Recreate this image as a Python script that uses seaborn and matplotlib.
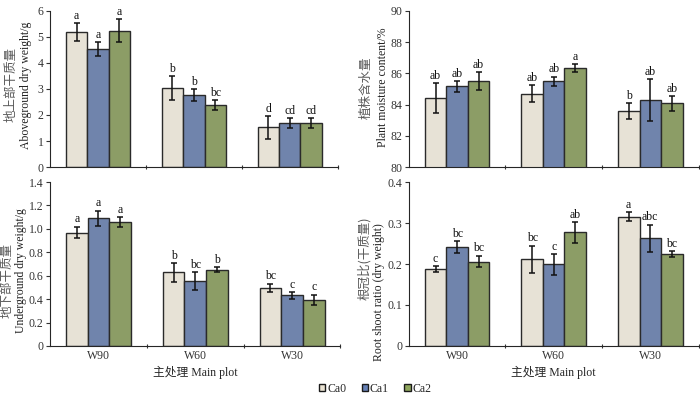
import matplotlib
matplotlib.use("Agg")
import matplotlib.pyplot as plt
import seaborn as sns
import pandas as pd
from matplotlib.patches import Patch

groups = ["W90", "W60", "W30"]
treatments = ["Ca0", "Ca1", "Ca2"]

# Aboveground dry weight (g)
above_mean = {"Ca0": [5.18, 3.03, 1.53], "Ca1": [4.53, 2.76, 1.69], "Ca2": [5.24, 2.37, 1.69]}
above_err = {"Ca0": [0.33, 0.45, 0.44], "Ca1": [0.27, 0.22, 0.19], "Ca2": [0.44, 0.19, 0.18]}
above_lab = {"Ca0": ["a", "b", "d"], "Ca1": ["a", "b", "cd"], "Ca2": ["a", "bc", "cd"]}

# Plant moisture content (%)
moist_mean = {"Ca0": [84.43, 84.69, 83.58], "Ca1": [85.16, 85.48, 84.29], "Ca2": [85.50, 86.35, 84.07]}
moist_err = {"Ca0": [0.94, 0.55, 0.51], "Ca1": [0.34, 0.30, 1.32], "Ca2": [0.58, 0.24, 0.49]}
moist_lab = {"Ca0": ["ab", "ab", "b"], "Ca1": ["ab", "ab", "ab"], "Ca2": ["ab", "a", "ab"]}

# Underground dry weight (g)
under_mean = {"Ca0": [0.968, 0.629, 0.495], "Ca1": [1.090, 0.555, 0.433], "Ca2": [1.059, 0.652, 0.393]}
under_err = {"Ca0": [0.050, 0.080, 0.037], "Ca1": [0.065, 0.074, 0.028], "Ca2": [0.040, 0.020, 0.045]}
under_lab = {"Ca0": ["a", "b", "bc"], "Ca1": ["a", "bc", "c"], "Ca2": ["a", "b", "c"]}

# Root shoot ratio
ratio_mean = {"Ca0": [0.187, 0.211, 0.315], "Ca1": [0.241, 0.199, 0.263], "Ca2": [0.206, 0.277, 0.224]}
ratio_err = {"Ca0": [0.007, 0.034, 0.011], "Ca1": [0.015, 0.025, 0.033], "Ca2": [0.014, 0.025, 0.008]}
ratio_lab = {"Ca0": ["c", "bc", "a"], "Ca1": ["bc", "c", "abc"], "Ca2": ["bc", "ab", "bc"]}

colors = {"Ca0": "#EAE3D3", "Ca1": "#6681B6", "Ca2": "#8FA65D"}

SERIF = "Liberation Serif"
CJK = "Noto Sans CJK SC"

sns.set_theme(style="ticks")
plt.rcParams["font.family"] = [SERIF, CJK]
plt.rcParams["axes.linewidth"] = 0.8
plt.rcParams["xtick.color"] = "#333333"
plt.rcParams["ytick.color"] = "#333333"

W, H = 700.0, 397.0
fig = plt.figure(figsize=(W / 100, H / 100), dpi=100)

panels = [
    dict(pos=[0.0714, 0.579, 0.411, 0.394], mean=above_mean, err=above_err, lab=above_lab,
         ylim=(0, 6), yticks=[0, 1, 2, 3, 4, 5, 6], yfmt=lambda v: f"{v:g}",
         zh="地上部干质量", en="Aboveground dry weight/g", xt=False,
         zh_xy=(11, 85), en_xy=(26, 85)),
    dict(pos=[0.584, 0.579, 0.414, 0.394], mean=moist_mean, err=moist_err, lab=moist_lab,
         ylim=(80, 90), yticks=[80, 82, 84, 86, 88, 90], yfmt=lambda v: f"{v:g}",
         zh="植株含水量", en="Plant moisture content/%", xt=False,
         zh_xy=(366, 88), en_xy=(383, 87)),
    dict(pos=[0.0714, 0.1285, 0.415, 0.413], mean=under_mean, err=under_err, lab=under_lab,
         ylim=(0, 1.4), yticks=[0, 0.2, 0.4, 0.6, 0.8, 1.0, 1.2, 1.4],
         yfmt=lambda v: "0" if v == 0 else f"{v:.1f}",
         zh="地下部干质量", en="Underground dry weight/g", xt=True,
         zh_xy=(7, 280), en_xy=(21, 271)),
    dict(pos=[0.584, 0.1285, 0.414, 0.413], mean=ratio_mean, err=ratio_err, lab=ratio_lab,
         ylim=(0, 0.4), yticks=[0, 0.1, 0.2, 0.3, 0.4],
         yfmt=lambda v: "0" if v == 0 else f"{v:.1f}",
         zh="根冠比(干质量)", en="Root shoot ratio (dry weight)", xt=True,
         zh_xy=(364, 258), en_xy=(379, 292)),
]

for p in panels:
    ax = fig.add_axes(p["pos"])
    rows = []
    for t in treatments:
        for gi, g in enumerate(groups):
            rows.append({"group": g, "treat": t, "val": p["mean"][t][gi]})
    df = pd.DataFrame(rows)
    sns.barplot(data=df, x="group", y="val", hue="treat", order=groups, hue_order=treatments,
                palette=colors, width=0.67, gap=0, errorbar=None, edgecolor="#2a2a2a",
                linewidth=1.0, legend=False, ax=ax)
    span = p["ylim"][1] - p["ylim"][0]
    bar_conts = list(ax.containers)[:len(treatments)]
    for ti, cont in enumerate(bar_conts):
        t = treatments[ti]
        for gi, bar in enumerate(cont):
            cx = bar.get_x() + bar.get_width() / 2
            h = bar.get_y() + bar.get_height()
            e = p["err"][t][gi]
            ax.errorbar(cx, h, yerr=e, fmt="none", ecolor="#111111", elinewidth=1.1,
                        capsize=2.2, capthick=1.1, zorder=5)
            ax.text(cx, h + e + span * 0.008, p["lab"][t][gi], ha="center", va="bottom",
                    fontsize=8.5, family=SERIF, color="#111111")
    ax.set_ylim(*p["ylim"])
    ax.set_xlim(-0.5, 2.5)
    ax.set_yticks(p["yticks"])
    ax.set_yticklabels([p["yfmt"](v) for v in p["yticks"]], fontsize=8.5, family=SERIF)
    ax.set_xticks([0, 1, 2])
    if p["xt"]:
        ax.set_xticklabels(groups, fontsize=8.5, family=SERIF)
        ax.set_xlabel("主处理 Main plot", fontsize=8.5, family=[SERIF, CJK], labelpad=3)
    else:
        ax.set_xticklabels([])
        ax.set_xlabel("")
    ax.tick_params(axis="x", which="major", length=0, pad=3)
    ax.set_xticks([0.5, 1.5, 2.5], minor=True)
    ax.tick_params(axis="x", which="minor", length=3, width=0.8, direction="inout")
    ax.tick_params(axis="y", length=3, width=0.8, direction="out", pad=1.5)
    ax.set_ylabel("")
    sns.despine(ax=ax)
    zx, zy = p["zh_xy"]
    ex, ey = p["en_xy"]
    fig.text(zx / W, 1 - zy / H, p["zh"], rotation=90, ha="center", va="center",
             fontsize=9, family=[CJK], color="#5a5a5a")
    fig.text(ex / W, 1 - ey / H, p["en"], rotation=90, ha="center", va="center",
             fontsize=8.5, family=SERIF, color="#222222")

handles = [Patch(facecolor=colors[t], edgecolor="#1a1a1a", linewidth=1.0, label=t) for t in treatments]
fig.legend(handles=handles, loc="center", bbox_to_anchor=(0.536, 0.021), ncol=3, frameon=False,
           handlelength=0.55, handleheight=0.55, handletextpad=0.15, columnspacing=1.3,
           borderpad=0.1, prop={"family": SERIF, "size": 8.5})

fig.savefig("out.png", dpi=100)
